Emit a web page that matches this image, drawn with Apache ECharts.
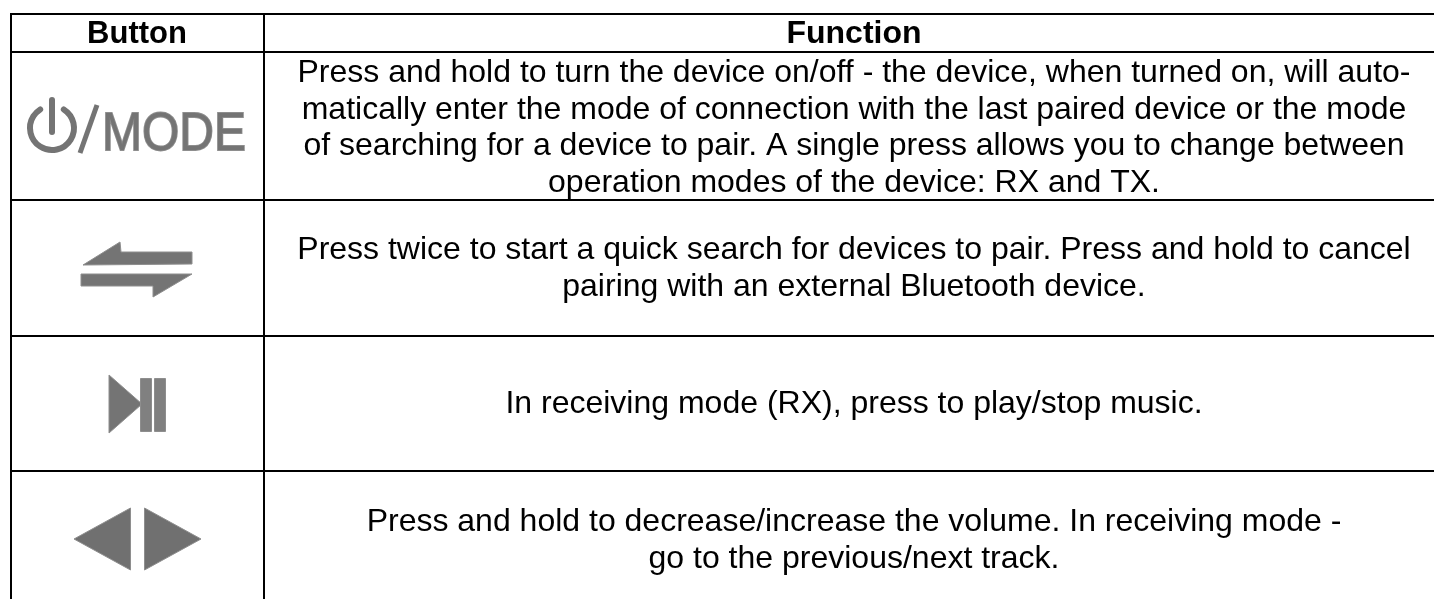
<!DOCTYPE html>
<html lang="en">
<head>
    <meta charset="UTF-8">
    <title>Button functions</title>
    <script src="https://cdn.jsdelivr.net/npm/echarts@6/dist/echarts.min.js"></script>
    <style>html,body{margin:0;padding:0;background:#fff}</style>
</head>
<body>
    <div id="main" style="width:1434px;height:599px;"></div>
    <script type="text/javascript">
        var headers = ['Button', 'Function'];
        var row1 = [
            'Press and hold to turn the device on/off - the device, when turned on, will auto-',
            'matically enter the mode of connection with the last paired device or the mode',
            'of searching for a device to pair. A single press allows you to change between',
            'operation modes of the device: RX and TX.'
        ];
        var row2 = [
            'Press twice to start a quick search for devices to pair. Press and hold to cancel',
            'pairing with an external Bluetooth device.'
        ];
        var row3 = ['In receiving mode (RX), press to play/stop music.'];
        var row4 = [
            'Press and hold to decrease/increase the volume. In receiving mode -',
            'go to the previous/next track.'
        ];
        var modeLabel = 'MODE';

        var fontName = '"Liberation Sans", Arial, sans-serif';
        var iconGrey = '#747474';
        var els = [];

        function hline(y, x1, x2) {
            els.push({type: 'rect', shape: {x: x1, y: y - 1, width: x2 - x1, height: 2}, style: {fill: '#000'}});
        }
        function vline(x, y1, y2) {
            els.push({type: 'rect', shape: {x: x - 1, y: y1, width: 2, height: y2 - y1}, style: {fill: '#000'}});
        }
        function label(str, x, y, size, weight) {
            els.push({type: 'text', x: x, y: y, style: {
                text: str, fill: '#000', align: 'center', verticalAlign: 'middle',
                font: (weight || 'normal') + ' ' + size + 'px ' + fontName
            }});
        }
        function poly(points, fill) {
            els.push({type: 'polygon', shape: {points: points}, style: {fill: fill || iconGrey, stroke: '#8e8e8e', lineWidth: 1}});
        }

        // table rules
        [14, 52, 200, 336, 471].forEach(function (y) { hline(y, 10, 1434); });
        vline(11, 13, 599);
        vline(264, 13, 599);

        // header and cell text
        label(headers[0], 137, 34, 31, 'bold');
        label(headers[1], 854, 34, 32, 'bold');
        [[row1, [73, 110, 146, 183]], [row2, [250, 287]], [row3, [404]], [row4, [522, 559]]].forEach(function (r) {
            r[0].forEach(function (s, i) { label(s, 854, r[1][i], 32); });
        });

        // power / mode icon
        els.push({type: 'arc', shape: {cx: 52, cy: 128, r: 22, startAngle: -Math.PI * 0.32, endAngle: -Math.PI * 0.68},
            style: {stroke: iconGrey, lineWidth: 6, fill: null, lineCap: 'round'}});
        els.push({type: 'line', shape: {x1: 52, y1: 100, x2: 52, y2: 132},
            style: {stroke: iconGrey, lineWidth: 6, lineCap: 'round'}});
        els.push({type: 'line', shape: {x1: 97, y1: 105, x2: 80, y2: 153},
            style: {stroke: iconGrey, lineWidth: 5}});
        els.push({type: 'text', x: 102, y: 162, scaleY: 1.12, style: {
            text: modeLabel, fill: iconGrey, stroke: '#8e8e8e', lineWidth: 1.6, align: 'left', verticalAlign: 'bottom',
            font: 'normal 48px ' + fontName
        }});

        // swap arrows
        poly([[83, 265], [120, 242], [121, 252], [192, 252], [192, 264]]);
        poly([[81, 274], [192, 274], [153, 297], [153, 286], [81, 286]]);

        // play/pause
        poly([[109, 375], [109, 433], [142, 404]]);
        poly([[140.5, 378.5], [151.5, 378.5], [151.5, 431.5], [140.5, 431.5]], '#808080');
        poly([[154.5, 378.5], [165.5, 378.5], [165.5, 431.5], [154.5, 431.5]], '#808080');

        // volume arrows
        poly([[130.5, 508], [130.5, 570], [74, 539]], '#707070');
        poly([[144.5, 508], [144.5, 570], [201, 539]], '#707070');

        var chart = echarts.init(document.getElementById('main'));
        chart.setOption({
            backgroundColor: '#fff',
            animation: false,
            graphic: {elements: els}
        });
    </script>
</body>
</html>
